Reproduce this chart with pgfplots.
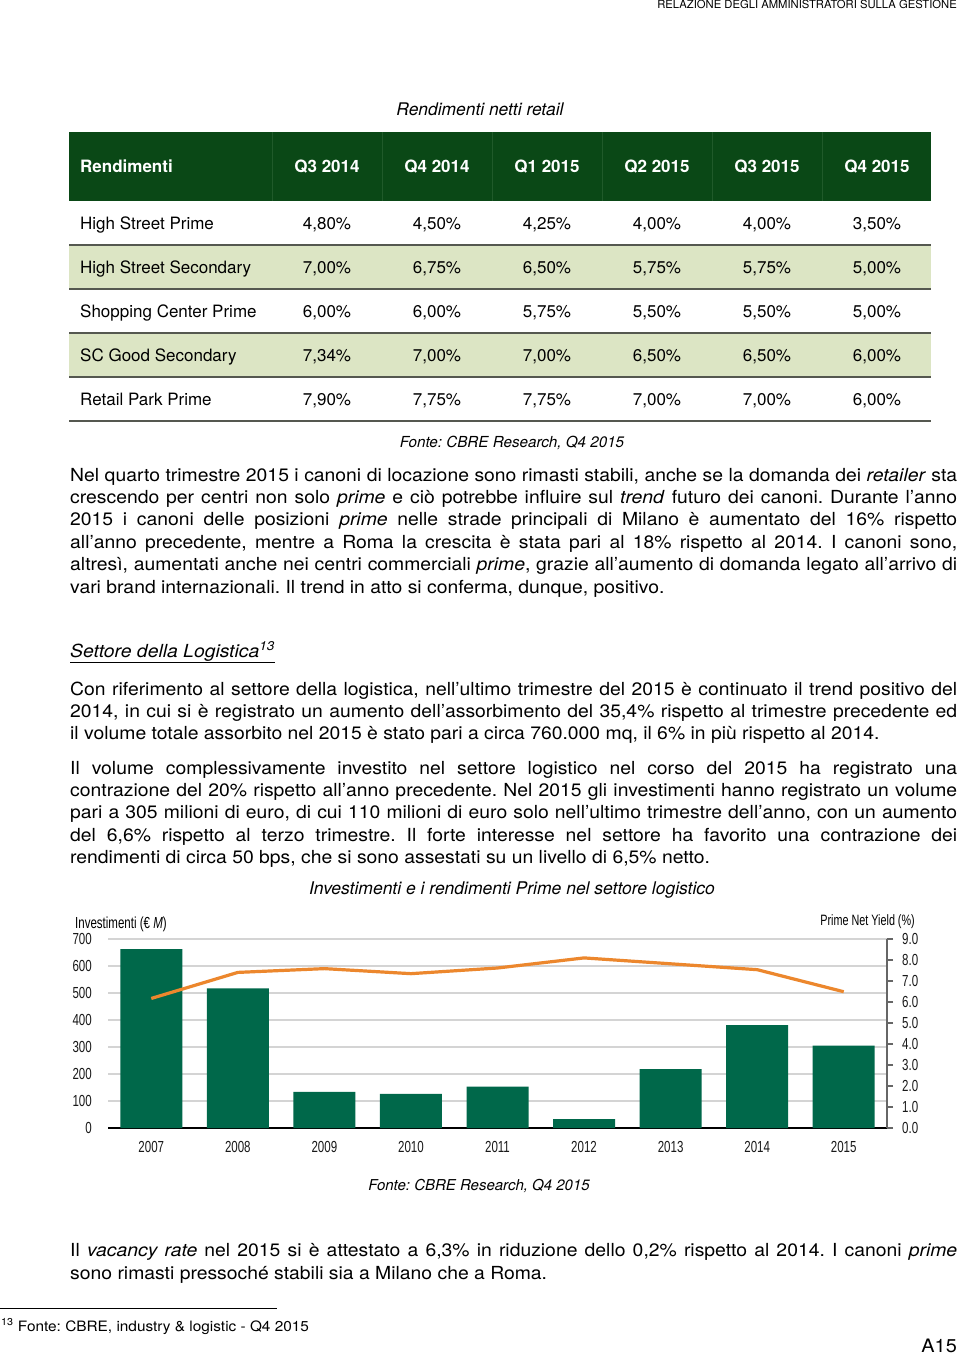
\documentclass[border=0pt]{standalone}
\usepackage{pgfplots}
\pgfplotsset{compat=1.18}
\usepackage{fontspec}
\setmainfont{TeX Gyre Heros}
\newfontfamily\bodyfont[FakeStretch=1.075]{TeX Gyre Heros}
\newfontfamily\cond[FakeStretch=0.72]{Liberation Sans}
\frenchspacing

\definecolor{tgreen}{RGB}{10,72,22}
\definecolor{tgreenline}{RGB}{32,90,42}
\definecolor{rgreen}{RGB}{220,229,196}
\definecolor{sepgray}{RGB}{85,88,80}
\definecolor{bargreen}{RGB}{0,104,74}
\definecolor{yorange}{RGB}{236,135,45}
\definecolor{gridgray}{RGB}{212,212,212}

\newcommand\tab{\fontsize{17}{22.4}\selectfont}
\newcommand\body{\bodyfont\fontsize{18}{22.4}\selectfont}
\newcommand\jl[2]{\node[anchor=base west,inner sep=0pt] at (70,#1) {\body\hbox to 887pt{#2}};}
\newcommand\lastl[2]{\node[anchor=base west,inner sep=0pt] at (70,#1) {\body #2};}
\newcommand\trow[8]{%
  \node[anchor=base west,inner sep=0pt] at (80,#1) {\tab #2};
  \node[anchor=base,inner sep=0pt] at (327,#1) {\tab #3};
  \node[anchor=base,inner sep=0pt] at (437,#1) {\tab #4};
  \node[anchor=base,inner sep=0pt] at (547,#1) {\tab #5};
  \node[anchor=base,inner sep=0pt] at (657,#1) {\tab #6};
  \node[anchor=base,inner sep=0pt] at (767,#1) {\tab #7};
  \node[anchor=base,inner sep=0pt] at (877,#1) {\tab #8};}

\begin{document}
\begin{tikzpicture}
\begin{scope}[x=1pt,y=-1pt]
\useasboundingbox (0,0) rectangle (960,1354);
\fill[white] (0,0) rectangle (960,1354);

\node[anchor=base east,inner sep=0pt] at (957,9) {\fontsize{11.25}{12}\selectfont RELAZIONE DEGLI AMMINISTRATORI SULLA GESTIONE};

% table
\node[anchor=base,inner sep=0pt] at (480,115) {\fontsize{17.4}{20}\selectfont\itshape Rendimenti netti retail};
\fill[tgreen] (69,132) rectangle (931,201);
\foreach \xx in {272,382,492,602,712,822} \draw[tgreenline, line width=0.8pt] (\xx,132) -- (\xx,201);
\fill[rgreen] (69,245) rectangle (931,289);
\fill[rgreen] (69,333) rectangle (931,377);
\foreach \yy in {245,289,333,377,421} \draw[sepgray, line width=2pt] (69,\yy) -- (931,\yy);
\begin{scope}[every node/.style={text=white,font=\bfseries}]
\trow{172}{Rendimenti}{Q3 2014}{Q4 2014}{Q1 2015}{Q2 2015}{Q3 2015}{Q4 2015}
\end{scope}
\trow{229}{High Street Prime}{4,80\%}{4,50\%}{4,25\%}{4,00\%}{4,00\%}{3,50\%}
\trow{273}{High Street Secondary}{7,00\%}{6,75\%}{6,50\%}{5,75\%}{5,75\%}{5,00\%}
\trow{317}{Shopping Center Prime}{6,00\%}{6,00\%}{5,75\%}{5,50\%}{5,50\%}{5,00\%}
\trow{361}{SC Good Secondary}{7,34\%}{7,00\%}{7,00\%}{6,50\%}{6,50\%}{6,00\%}
\trow{405}{Retail Park Prime}{7,90\%}{7,75\%}{7,75\%}{7,00\%}{7,00\%}{6,00\%}
\node[anchor=base,inner sep=0pt] at (512,447) {\fontsize{15.2}{18}\selectfont\itshape Fonte: CBRE Research, Q4 2015};

% paragraph 1
\jl{481}{Nel quarto trimestre 2015 i canoni di locazione sono rimasti stabili, anche se la domanda dei \textit{retailer} sta}
\jl{503.4}{crescendo per centri non solo \textit{prime} e ciò potrebbe influire sul \textit{trend} futuro dei canoni. Durante l’anno}
\jl{525.8}{2015 i canoni delle posizioni \textit{prime} nelle strade principali di Milano è aumentato del 16\% rispetto}
\jl{548.2}{all’anno precedente, mentre a Roma la crescita è stata pari al 18\% rispetto al 2014. I canoni sono,}
\jl{570.6}{altresì, aumentati anche nei centri commerciali \textit{prime}, grazie all’aumento di domanda legato all’arrivo di}
\lastl{593}{vari brand internazionali. Il trend in atto si conferma, dunque, positivo.}

% section title
\node[anchor=base west,inner sep=0pt] (st) at (70,657) {\body\itshape Settore della Logistica\textsuperscript{13}};
\draw[line width=1pt] ([yshift=-5pt]st.base west) -- ([yshift=-5pt]st.base east);

% paragraph 2
\jl{695}{Con riferimento al settore della logistica, nell’ultimo trimestre del 2015 è continuato il trend positivo del}
\jl{717.4}{2014, in cui si è registrato un aumento dell’assorbimento del 35,4\% rispetto al trimestre precedente ed}
\lastl{739.8}{il volume totale assorbito nel 2015 è stato pari a circa 760.000 mq, il 6\% in più rispetto al 2014.}

% paragraph 3
\jl{774}{Il volume complessivamente investito nel settore logistico nel corso del 2015 ha registrato una}
\jl{796.4}{contrazione del 20\% rispetto all’anno precedente. Nel 2015 gli investimenti hanno registrato un volume}
\jl{818.8}{pari a 305 milioni di euro, di cui 110 milioni di euro solo nell’ultimo trimestre dell’anno, con un aumento}
\jl{841.2}{del 6,6\% rispetto al terzo trimestre. Il forte interesse nel settore ha favorito una contrazione dei}
\lastl{863.6}{rendimenti di circa 50 bps, che si sono assestati su un livello di 6,5\% netto.}

% chart titles
\node[anchor=base,inner sep=0pt] at (512,894) {\fontsize{17.5}{20}\selectfont\itshape Investimenti e i rendimenti Prime nel settore logistico};
\node[anchor=base west,inner sep=0pt] at (75,928) {\cond\fontsize{16}{18}\selectfont Investimenti (€ \textit{M})};
\node[anchor=base east,inner sep=0pt] at (915,925) {\cond\fontsize{15}{17}\selectfont Prime Net Yield (\%)};
\node[anchor=base,inner sep=0pt] at (479,1190) {\fontsize{15}{18}\selectfont\itshape Fonte: CBRE Research, Q4 2015};

% paragraph 4
\jl{1256.5}{Il \textit{vacancy rate} nel 2015 si è attestato a 6,3\% in riduzione dello 0,2\% rispetto al 2014. I canoni \textit{prime}}
\lastl{1279}{sono rimasti pressoché stabili sia a Milano che a Roma.}

% footnote
\draw[line width=1pt] (0,1308.5) -- (277,1308.5);
\node[anchor=base west,inner sep=0pt] at (1,1331) {\bodyfont\fontsize{14.3}{16}\selectfont\textsuperscript{13} Fonte: CBRE, industry \& logistic - Q4 2015};
\node[anchor=base east,inner sep=0pt] at (957,1352) {\bodyfont\fontsize{18.5}{20}\selectfont A15};
\end{scope}

% bars: investments
\begin{axis}[
  at={(108pt,-1128pt)}, anchor=south west,
  width=779pt, height=189pt, scale only axis,
  xmin=-0.5, xmax=8.5, ymin=0, ymax=700,
  axis x line*=bottom, axis y line*=left,
  x axis line style={-, black, line width=1.6pt},
  y axis line style={draw=none},
  xtick={0,...,8},
  xticklabels={2007,2008,2009,2010,2011,2012,2013,2014,2015},
  ytick={0,100,...,700},
  yticklabels={0,100,200,300,400,500,600,700},
  major tick length=0pt,
  ymajorgrids, grid style={gridgray, line width=1.2pt},
  tick label style={font=\cond\fontsize{16}{18}\selectfont, text=black!90},
  yticklabel style={anchor=east, inner sep=0pt, xshift=-16pt},
  xticklabel style={anchor=north, inner sep=0pt, yshift=-13.5pt},
]
\addplot[ybar, bar width=62pt, fill=bargreen, draw=none] coordinates {
  (0,663) (1,517) (2,134) (3,126) (4,153) (5,33) (6,218) (7,381) (8,305)
};
\end{axis}

% line: prime net yield
\begin{axis}[
  at={(108pt,-1128pt)}, anchor=south west,
  width=779pt, height=189pt, scale only axis,
  xmin=-0.5, xmax=8.5, ymin=0, ymax=9,
  axis x line=none, axis y line*=right,
  y axis line style={-, black!60, line width=1.3pt},
  ytick={0,...,9},
  yticklabels={0.0,1.0,2.0,3.0,4.0,5.0,6.0,7.0,8.0,9.0},
  tick align=outside, major tick length=6pt,
  tick style={black!60, line width=1.3pt},
  tick label style={font=\cond\fontsize{16}{18}\selectfont, text=black!90},
  yticklabel style={anchor=west, inner sep=0pt, xshift=9pt},
]
\addplot[yorange, line width=3.2pt, mark=none] coordinates {
  (0,6.17) (1,7.41) (2,7.59) (3,7.35) (4,7.62) (5,8.10) (6,7.82) (7,7.54) (8,6.49)
};
\end{axis}
\end{tikzpicture}
\end{document}
